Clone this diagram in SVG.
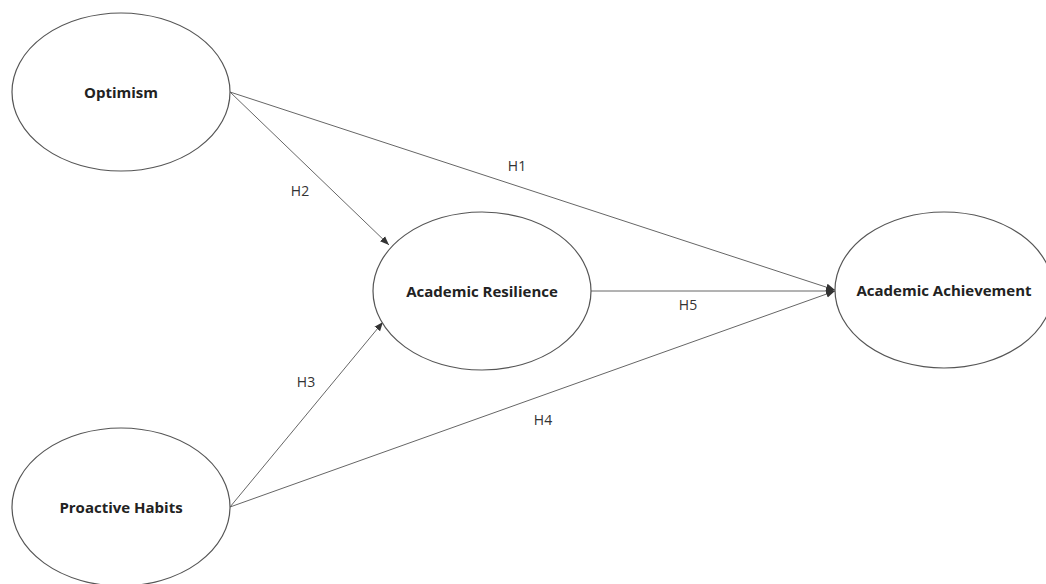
<svg xmlns="http://www.w3.org/2000/svg" width="1046" height="584" viewBox="0 0 1046 584">
<style>
.node{fill:#fff;stroke:#555;stroke-width:1.2}
.nl{font-family:"Open Sans",sans-serif;font-weight:bold;font-size:15px;fill:#222;text-anchor:middle;dominant-baseline:central}
.e{stroke:#666;stroke-width:1;fill:none;marker-end:url(#ah)}
.el{font-family:"Open Sans",sans-serif;font-size:14px;fill:#333;text-anchor:middle;dominant-baseline:central}
</style>
<defs>
<marker id="ah" viewBox="0 0 10 10" refX="10" refY="5" markerWidth="9" markerHeight="9" markerUnits="userSpaceOnUse" orient="auto">
<path d="M0,1 L10,5 L0,9 z" fill="#333"/>
</marker>
</defs>
<rect width="1046" height="584" fill="#fff"/>
<g id="connectors">
<line class="e" x1="230" y1="92" x2="835" y2="290"/>
<line class="e" x1="230" y1="92" x2="389" y2="245"/>
<line class="e" x1="591" y1="291" x2="835" y2="291"/>
<line class="e" x1="230" y1="507" x2="383" y2="322"/>
<line class="e" x1="230" y1="507" x2="835" y2="291"/>
<text class="el" x="517" y="165">H1</text>
<text class="el" x="300" y="190">H2</text>
<text class="el" x="688" y="304">H5</text>
<text class="el" x="306" y="381">H3</text>
<text class="el" x="543" y="419">H4</text>
</g>
<g id="optimism"><ellipse class="node" cx="121" cy="92" rx="109" ry="79"/><text class="nl" x="121" y="92">Optimism</text></g>
<g id="resilience"><ellipse class="node" cx="482" cy="291" rx="109" ry="79"/><text class="nl" x="482" y="291">Academic Resilience</text></g>
<g id="achievement"><ellipse class="node" cx="944" cy="290" rx="109" ry="78"/><text class="nl" x="944" y="290">Academic Achievement</text></g>
<g id="proactive"><ellipse class="node" cx="121" cy="507" rx="109" ry="79"/><text class="nl" x="121" y="507">Proactive Habits</text></g>
</svg>
